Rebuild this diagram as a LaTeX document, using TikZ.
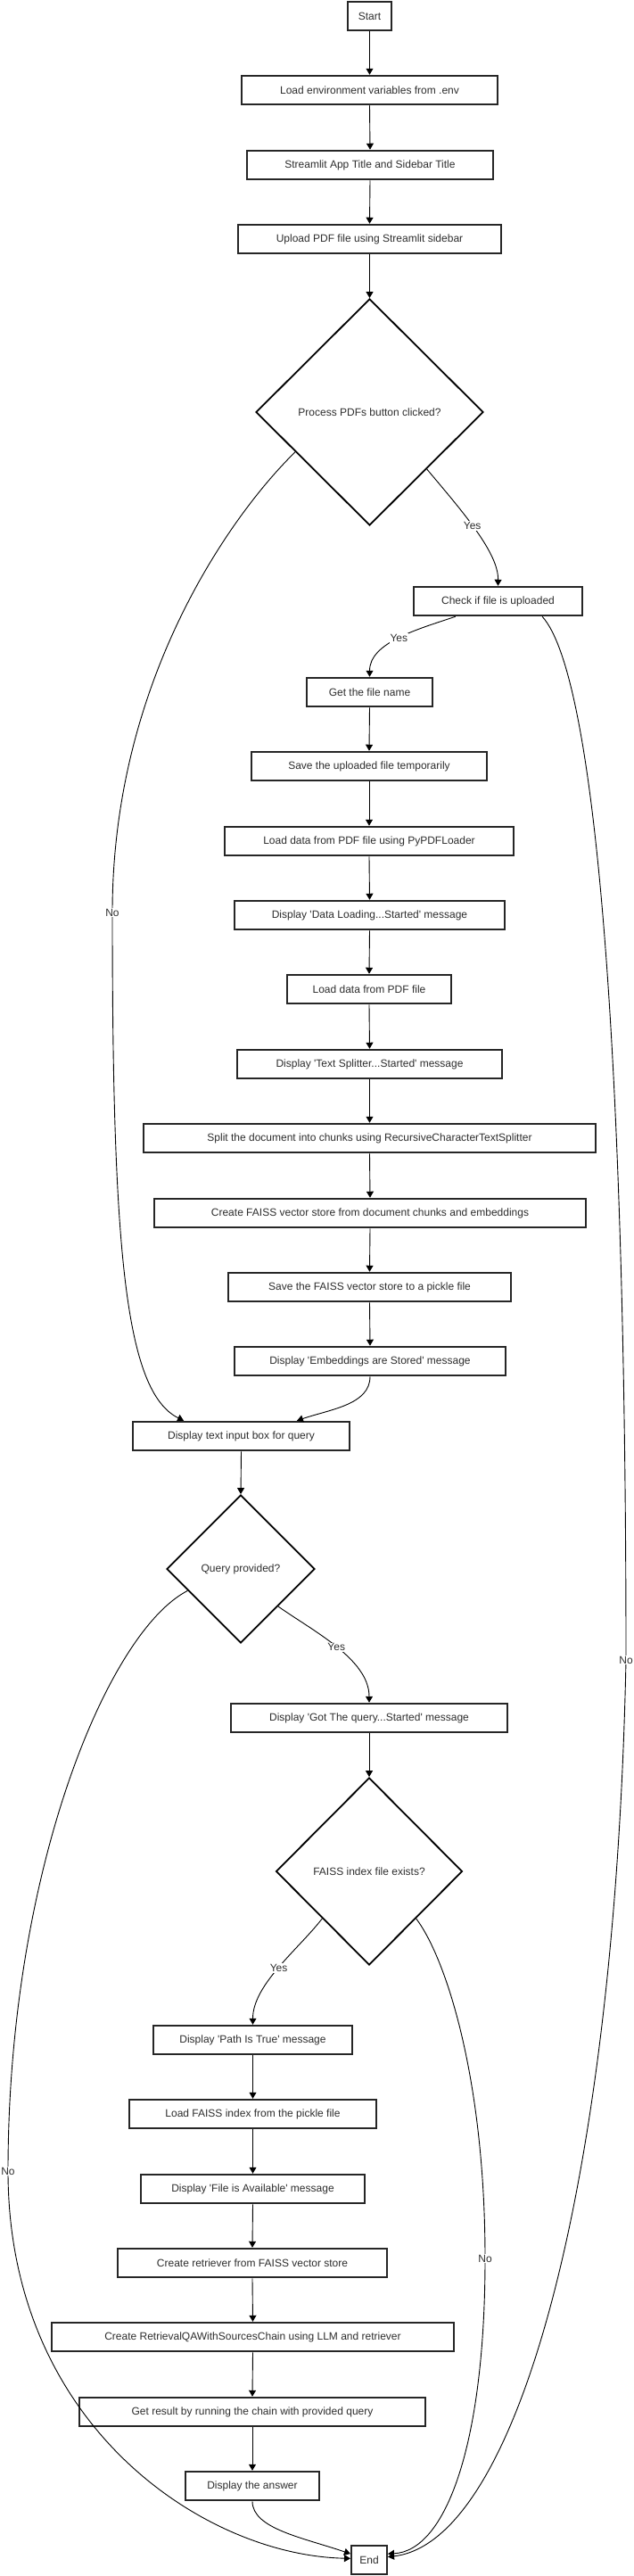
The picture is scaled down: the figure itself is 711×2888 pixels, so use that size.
\documentclass[tikz,border=0pt]{standalone}
\usepackage{fontspec}
\setmainfont{Liberation Sans}
\usetikzlibrary{shapes.geometric,arrows.meta,calc}
\newcommand{\sq}{\textquotesingle}
\tikzset{
  box/.style={draw=black!85, line width=2pt, rectangle, minimum height=32.5pt, inner sep=0pt,
    font=\fontsize{12}{14}\selectfont, text=black!82},
  dia/.style={draw=black, line width=1.8pt, diamond, aspect=1, inner sep=0pt,
    font=\fontsize{12}{14}\selectfont, text=black!82},
  flow/.style={draw=black, line width=0.9pt, -{Triangle[length=7pt,width=8pt]}},
  lab/.style={fill=white, inner sep=1pt, font=\fontsize{12}{14}\selectfont, text=black!82}
}
\begin{document}
\begin{tikzpicture}[x=1pt,y=-1pt]
\fill[white] (0,0) rectangle (711,2888);
\useasboundingbox (0,0) rectangle (711,2888);

\node[box,minimum width=49pt] (start) at (414.5,18) {Start};
\node[box,minimum width=287pt] (env) at (414.5,101) {Load environment variables from .env};
\node[box,minimum width=276pt] (title) at (415,185) {Streamlit App Title and Sidebar Title};
\node[box,minimum width=295pt] (upload) at (414.5,268) {Upload PDF file using Streamlit sidebar};
\node[dia,minimum width=255pt,minimum height=254pt] (proc) at (414.5,462) {Process PDFs button clicked?};
\node[box,minimum width=189pt] (check) at (558.5,674) {Check if file is uploaded};
\node[box,minimum width=141pt] (getname) at (414.5,776) {Get the file name};
\node[box,minimum width=264pt] (save) at (414,859) {Save the uploaded file temporarily};
\node[box,minimum width=324pt] (pypdf) at (414,943) {Load data from PDF file using PyPDFLoader};
\node[box,minimum width=303pt] (dataload) at (414.5,1026) {Display \sq Data Loading...Started\sq{} message};
\node[box,minimum width=184pt] (loaddata) at (414,1109) {Load data from PDF file};
\node[box,minimum width=297pt] (splitmsg) at (414.5,1193) {Display \sq Text Splitter...Started\sq{} message};
\node[box,minimum width=507pt] (split) at (414.5,1276) {Split the document into chunks using RecursiveCharacterTextSplitter};
\node[box,minimum width=484pt] (faiss) at (415,1360) {Create FAISS vector store from document chunks and embeddings};
\node[box,minimum width=317pt] (savefaiss) at (414.5,1443) {Save the FAISS vector store to a pickle file};
\node[box,minimum width=304pt] (embmsg) at (415,1526) {Display \sq Embeddings are Stored\sq{} message};
\node[box,minimum width=243pt] (input) at (270.5,1610) {Display text input box for query};
\node[dia,minimum width=166pt,minimum height=166pt] (query) at (270,1759) {Query provided?};
\node[box,minimum width=310pt] (gotq) at (414,1926) {Display \sq Got The query...Started\sq{} message};
\node[dia,minimum width=209pt,minimum height=210pt] (idx) at (414,2098) {FAISS index file exists?};
\node[box,minimum width=223pt] (path) at (283.5,2287) {Display \sq Path Is True\sq{} message};
\node[box,minimum width=277pt] (loadidx) at (283.5,2370) {Load FAISS index from the pickle file};
\node[box,minimum width=251pt] (avail) at (283.5,2454) {Display \sq File is Available\sq{} message};
\node[box,minimum width=302pt] (retr) at (283,2537) {Create retriever from FAISS vector store};
\node[box,minimum width=451pt] (qa) at (283.5,2620) {Create RetrievalQAWithSourcesChain using LLM and retriever};
\node[box,minimum width=388pt] (result) at (283,2704) {Get result by running the chain with provided query};
\node[box,minimum width=150pt] (answer) at (283,2787) {Display the answer};
\node[box,minimum width=40pt] (end) at (414,2870) {End};

% straight connectors
\draw[flow] (start.south) -- (env.north);
\draw[flow] (env.south) -- (title.north);
\draw[flow] (title.south) -- (upload.north);
\draw[flow] (upload.south) -- (proc.north);
\draw[flow] (getname.south) -- (save.north);
\draw[flow] (save.south) -- (pypdf.north);
\draw[flow] (pypdf.south) -- (dataload.north);
\draw[flow] (dataload.south) -- (loaddata.north);
\draw[flow] (loaddata.south) -- (splitmsg.north);
\draw[flow] (splitmsg.south) -- (split.north);
\draw[flow] (split.south) -- (faiss.north);
\draw[flow] (faiss.south) -- (savefaiss.north);
\draw[flow] (savefaiss.south) -- (embmsg.north);
\draw[flow] (input.south) -- (query.north);
\draw[flow] (gotq.south) -- (idx.north);
\draw[flow] (path.south) -- (loadidx.north);
\draw[flow] (loadidx.south) -- (avail.north);
\draw[flow] (avail.south) -- (retr.north);
\draw[flow] (retr.south) -- (qa.north);
\draw[flow] (qa.south) -- (result.north);
\draw[flow] (result.south) -- (answer.north);

% curved connectors
\draw[flow] (proc.south east) .. controls (520,575) and (559,620) .. (check.north)
  node[lab,pos=0.45] {Yes};
\draw[flow] ($(check.south west)!0.25!(check.south east)$) .. controls (470,705) and (414.5,720) .. (getname.north)
  node[lab,pos=0.5] {Yes};
\coordinate (n1) at (126,1023);
\draw[flow] ($(proc.west)!0.35!(proc.south)$) .. controls (262,574) and (126,760) .. (n1) node[lab,pos=1] {No}
  .. controls (126,1400) and (140,1560) .. ($(input.north west)!0.237!(input.north east)$);
\coordinate (n2) at (702,1861);
\draw[flow] ($(check.south west)!0.76!(check.south east)$) .. controls (670,760) and (702,1200) .. (n2) node[lab,pos=1] {No}
  .. controls (690,2450) and (580,2850) .. ($(end.north east)!0.4!(end.south east)$);
\draw[flow] (embmsg.south) .. controls (415,1575) and (370,1580) .. ($(input.north west)!0.755!(input.north east)$);
\draw[flow] (query.south east) .. controls (350,1828) and (414,1860) .. (gotq.north)
  node[lab,pos=0.5] {Yes};
\coordinate (n3) at (9,2434);
\draw[flow] ($(query.west)!0.29!(query.south)$) .. controls (120,1830) and (9,2100) .. (n3) node[lab,pos=1] {No}
  .. controls (9,2720) and (230,2865) .. ($(end.north west)!0.45!(end.south west)$);
\draw[flow] (idx.south west) .. controls (335,2185) and (283.5,2225) .. (path.north)
  node[lab,pos=0.5] {Yes};
\coordinate (n4) at (544,2532);
\draw[flow] (idx.south east) .. controls (500,2195) and (544,2330) .. (n4) node[lab,pos=1] {No}
  .. controls (544,2740) and (500,2860) .. ($(end.north east)!0.3!(end.south east)$);
\draw[flow] (answer.south) .. controls (283,2835) and (340,2845) .. ($(end.north west)!0.3!(end.south west)$);
\end{tikzpicture}
\end{document}
